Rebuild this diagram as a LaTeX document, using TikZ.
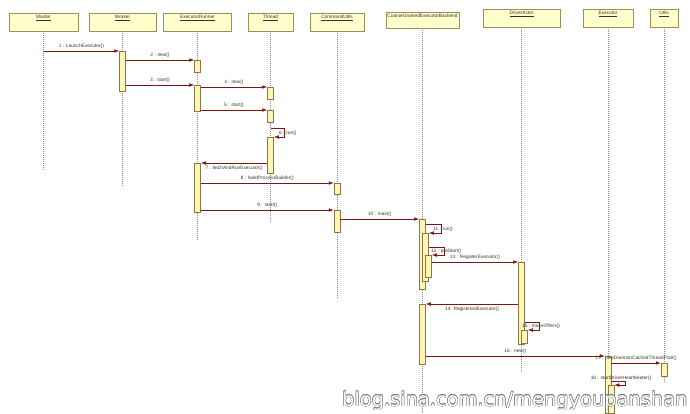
\documentclass[tikz,border=0pt]{standalone}
\usepackage{fontspec}
\setmainfont{Liberation Sans}
\newfontfamily\wzfont{DejaVu Sans}
\usetikzlibrary{arrows.meta,calc}
\definecolor{gelb}{HTML}{FFFFCC}
\definecolor{gelbl}{HTML}{FFF6B4}
\definecolor{rand}{HTML}{A08C5C}
\definecolor{arand}{HTML}{8C7648}
\definecolor{dunkelrot}{HTML}{7F1414}
\definecolor{grau}{HTML}{8A8A8A}
\definecolor{schrift}{HTML}{333333}
\definecolor{wzrand}{HTML}{7A7A7A}
\tikzset{
  kopf/.style={draw=rand,fill=gelb,line width=0.5pt,inner sep=0pt},
  kopft/.style={anchor=north,inner sep=0.5pt,text=schrift,font=\fontsize{4.8}{5}\selectfont},
  akt/.style={draw=arand,fill=gelbl,line width=0.5pt,inner sep=0pt,minimum width=6pt,anchor=north},
  leb/.style={grau,dash pattern=on 1pt off 1pt,line width=0.4pt},
  msg/.style={-{Latex[length=5pt,width=3.6pt]},dunkelrot,line width=0.5pt},
  lab/.style={text=schrift,inner sep=0pt,font=\fontsize{4.8}{5}\selectfont},
  wz/.style={anchor=base west,inner sep=0pt,font=\wzfont\fontsize{19.4}{20}\selectfont},
}

\begin{document}
\begin{tikzpicture}[x=1pt,y=-1pt]
  \useasboundingbox (0,0) rectangle (690,413);
  % Kopfzeile
  \node[kopf,minimum width=69pt,minimum height=18pt] (ma) at (43.5,22) {};
  \node[kopf,minimum width=67pt,minimum height=18pt] (wk) at (122.5,22) {};
  \node[kopf,minimum width=68pt,minimum height=18pt] (er) at (197.5,22) {};
  \node[kopf,minimum width=45pt,minimum height=18pt] (th) at (270.5,22) {};
  \node[kopf,minimum width=54pt,minimum height=18pt] (cu) at (337,22) {};
  \node[kopf,minimum width=73pt,minimum height=16pt] (cg) at (422.5,20) {};
  \node[kopf,minimum width=77pt,minimum height=18pt] (da) at (521.5,18) {};
  \node[kopf,minimum width=50pt,minimum height=18pt] (ex) at (608,18) {};
  \node[kopf,minimum width=28pt,minimum height=18pt] (ut) at (664,18) {};
  \node[kopft] (ma-t) at ($(ma.north)+(0,1.5)$) {\underline{Master}};
  \node[kopft] (wk-t) at ($(wk.north)+(0,1.5)$) {\underline{Worker}};
  \node[kopft] (er-t) at ($(er.north)+(0,1.5)$) {\underline{ExecutorRunner}};
  \node[kopft] (th-t) at ($(th.north)+(0,1.5)$) {\underline{Thread}};
  \node[kopft] (cu-t) at ($(cu.north)+(0,1.5)$) {\underline{CommandUtils}};
  \node[kopft] (cg-t) at ($(cg.north)+(0,1.5)$) {CoarseGrainedExecutorBackend};
  \node[kopft] (da-t) at ($(da.north)+(0,1.5)$) {\underline{DriverActor}};
  \node[kopft] (ex-t) at ($(ex.north)+(0,1.5)$) {\underline{Executor}};
  \node[kopft] (ut-t) at ($(ut.north)+(0,1.5)$) {\underline{Utils}};

  % Lebenslinien
  \draw[leb] (ma.south) -- (ma.south |- 0,170);
  \draw[leb] (wk.south) -- (wk.south |- 0,186);
  \draw[leb] (er.south) -- (er.south |- 0,240);
  \draw[leb] (th.south) -- (th.south |- 0,222);
  \draw[leb] (cu.south) -- (cu.south |- 0,298);
  \draw[leb] (cg.south) -- (cg.south |- 0,413);
  \draw[leb] (da.south) -- (da.south |- 0,372);
  \draw[leb] (ex.south) -- (ex.south |- 0,413);
  \draw[leb] (ut.south) -- (ut.south |- 0,383);

  % Aktivierungen
  \node[akt,minimum height=40pt] (wk1) at (wk |- 0,51) {};
  \node[akt,minimum height=12pt] (er1) at (er |- 0,60) {};
  \node[akt,minimum height=26pt] (er2) at (er |- 0,85) {};
  \node[akt,minimum height=12pt] (th1) at (th |- 0,87) {};
  \node[akt,minimum height=12pt] (th2) at (th |- 0,110) {};
  \node[akt,minimum height=36pt] (th3) at (th |- 0,137) {};
  \node[akt,minimum height=49pt] (er3) at (er |- 0,163) {};
  \node[akt,minimum height=11pt] (cu1) at (cu |- 0,183) {};
  \node[akt,minimum height=22pt] (cu2) at (cu |- 0,210) {};
  \node[akt,minimum height=70pt] (cg1) at (cg |- 0,219) {};
  \node[akt,minimum height=48pt] (cg2) at ($(cg |- 0,233)+(3,0)$) {};
  \node[akt,minimum height=22pt] (cg3) at ($(cg |- 0,255)+(6,0)$) {};
  \node[akt,minimum height=82pt] (da1) at (da |- 0,262) {};
  \node[akt,minimum height=60pt] (cg4) at (cg |- 0,304) {};
  \node[akt,minimum height=13pt] (da2) at ($(da |- 0,330)+(3,0)$) {};
  \node[akt,minimum height=57pt] (ex1) at (ex |- 0,356) {};
  \node[akt,minimum height=13pt] (ut1) at (ut |- 0,363) {};
  \node[akt,minimum height=28pt] (ex2) at ($(ex |- 0,385)+(3,0)$) {};

  % Nachrichten
  \draw[msg] (ma.south |- wk1.north) -- (wk1.north west) node[lab,midway,above=2.5pt] (l1) {1 : LaunchExecutor()};
  \draw[msg] (wk1.east |- er1.north) -- (er1.north west) node[lab,midway,above=2.5pt] (l2) {2 : new()};
  \draw[msg] (wk1.east |- er2.north) -- (er2.north west) node[lab,midway,above=2.5pt] (l3) {3 : start()};
  \draw[msg] (er2.east |- th1.north) -- (th1.north west) node[lab,midway,above=2.5pt] (l4) {4 : new()};
  \draw[msg] (er2.east |- th2.north) -- (th2.north west) node[lab,midway,above=2.5pt] (l5) {5 : start()};
  \draw[msg] (th.south |- 0,128) -- ++(14,0) |- (th3.north east);
  \node[lab,anchor=west] (l6) at (279,133) {6 : run()};
  \draw[msg] (th3.west |- er3.north) -- (er3.north east) node[lab,midway,below=3pt] (l7) {7 : fetchAndRunExecutor()};
  \draw[msg] (er3.east |- cu1.north) -- (cu1.north west) node[lab,midway,above=2.5pt] (l8) {8 : buildProcessBuilder()};
  \draw[msg] (er3.east |- cu2.north) -- (cu2.north west) node[lab,midway,above=2.5pt] (l9) {9 : start()};
  \draw[msg] (cu2.east |- cg1.north) -- (cg1.north west) node[lab,midway,above=2.5pt] (l10) {10 : main()};
  \draw[msg] (cg1.east |- 0,224) -- ++(15,0) |- (cg2.north east);
  \node[lab,anchor=west] (l11) at (433,229) {11 : run()};
  \draw[msg] (cg2.east |- 0,247) -- ++(15,0) |- (cg3.north east);
  \node[lab,anchor=west] (l12) at (431,251) {12 : preStart()};
  \draw[msg] (cg3.east |- da1.north) -- (da1.north west) node[lab,midway,above=2.5pt] (l13) {13 : RegisterExecutor()};
  \draw[msg] (da1.west |- cg4.north) -- (cg4.north east) node[lab,midway,below=3pt] (l14) {14: RegisteredExecutor()};
  \draw[msg] (da1.east |- 0,322) -- ++(14,0) |- (da2.north east);
  \node[lab,anchor=west] (l15) at (522,326) {15 : makeOffers()};
  \draw[msg] (cg4.east |- ex1.north) -- (ex1.north west) node[lab,midway,above=2.5pt] (l16) {16 : new()};
  \draw[msg] (ex1.east |- ut1.north) -- (ut1.north west) node[lab,midway,above=2.5pt] (l17) {17 : newDaemonCachedThreadPool()};
  \draw[msg] (ex1.east |- 0,381) -- ++(14,0) |- (ex2.north east);
  \node[lab] (l18) at (621,378) {18 : startDriverHeartbeater()};

  % Wasserzeichen
  \foreach \w in {0,45,...,315}
    \node[wz,text=wzrand] (wz\w) at ($(342,406)+(\w:0.5)$) {blog.sina.com.cn/mengyoupanshan};
  \node[wz,text=white] (wz) at (342,406) {blog.sina.com.cn/mengyoupanshan};
\end{tikzpicture}
\end{document}
